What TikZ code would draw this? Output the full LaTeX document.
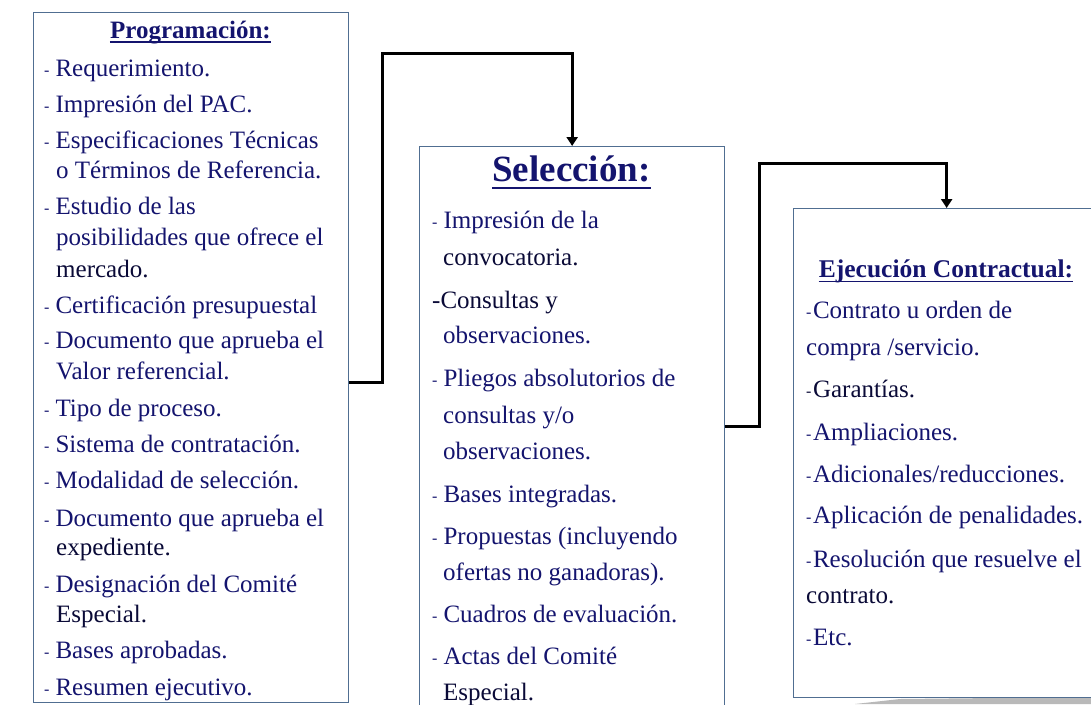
\documentclass[tikz,border=0pt]{standalone}
\usepackage{fontspec}
\setmainfont{Liberation Serif}
\usetikzlibrary{arrows.meta}
\definecolor{azul}{RGB}{20,20,110}
\definecolor{oscuro}{RGB}{10,10,55}
\definecolor{borde}{RGB}{80,110,145}
\newcommand{\guion}[1][6pt]{\raisebox{1pt}{\fontsize{16}{16}\selectfont -}\hspace{#1}}
\tikzset{
  caja/.style={draw=borde,line width=1.3pt,anchor=north west,inner sep=0pt},
  linea/.style={anchor=base west,inner sep=0pt,font=\fontsize{25}{30}\selectfont},
  titulo/.style={anchor=base,inner sep=0pt,text=azul,font=\bfseries\fontsize{#1}{#1}\selectfont},
  flecha/.style={line width=3pt,-{Triangle[length=9pt,width=11pt]}}
}
\begin{document}
\begin{tikzpicture}[x=1pt,y=1pt]
        \useasboundingbox (0,0) rectangle (1091,-704);
        \fill[gray!55] (855,-704) -- (900,-699) -- (1091,-697) -- (1091,-704) -- cycle;
        % cajas
        \node[caja,fill=white,minimum width=315pt,minimum height=690pt] (prog) at (33,-12) {};
        \node[caja,fill=white,minimum width=305pt,minimum height=580pt] (sel) at (419,-146) {};
        \node[caja,fill=white,minimum width=306pt,minimum height=489pt] (ejec) at (793,-208) {};
        % titulos
        \node[titulo=25] (tprog) at (190.5,-38) {Programación:};
        \node[titulo=37] (tsel) at (571.5,-181) {Selección:};
        \node[titulo=25.5] (tejec) at (946,-277) {Ejecución Contractual:};
        \draw[azul,line width=1.5pt]([yshift=-4pt]tprog.base west)--([yshift=-4pt]tprog.base east);
        \draw[azul,line width=2.5pt]([yshift=-7pt]tsel.base west)--([yshift=-7pt]tsel.base east);
        \draw[azul,line width=1.5pt]([yshift=-4.5pt]tejec.base west)--([yshift=-4.5pt]tejec.base east);
        % textos
        \foreach \x/\y/\col/\t in {
        44/76/azul/\guion Requerimiento.,
        44/112/azul/\guion Impresión del PAC.,
        44/148/azul/\guion Especificaciones Técnicas,
        56/178/azul/o Términos de Referencia.,
        44/214/azul/\guion Estudio de las,
        56/245/azul/posibilidades que ofrece el,
        56/277/oscuro/mercado.,
        44/313/azul/\guion Certificación presupuestal,
        44/348/azul/\guion Documento que aprueba el,
        56/379/azul/Valor referencial.,
        44/416/azul/\guion Tipo de proceso.,
        44/452/azul/\guion Sistema de contratación.,
        44/488/azul/\guion Modalidad de selección.,
        44/526/azul/\guion Documento que aprueba el,
        56/555/oscuro/expediente.,
        44/592/azul/\guion Designación del Comité,
        56/622/oscuro/Especial.,
        44/658/azul/\guion Bases aprobadas.,
        44/695/azul/\guion Resumen ejecutivo.}{
            \node[linea,text=\col] (p\y) at (\x,-\y) {\t};
        }
        \foreach \x/\y/\col/\t in {
        432/228/azul/\guion Impresión de la,
        443/265/oscuro/convocatoria.,
        432/308/oscuro/-Consultas y,
        443/343/azul/observaciones.,
        432/386/azul/\guion Pliegos absolutorios de,
        443/423/azul/{consultas y/o},
        443/459/azul/observaciones.,
        432/502/azul/\guion Bases integradas.,
        432/544/azul/\guion Propuestas (incluyendo,
        443/580/azul/ofertas no ganadoras).,
        432/622/azul/\guion Cuadros de evaluación.,
        432/664/azul/\guion Actas del Comité,
        443/700/oscuro/Especial.}{
            \node[linea,text=\col] (s\y) at (\x,-\y) {\t};
        }
        \foreach \x/\y/\col/\t in {
        806/318/azul/\guion[1.5pt]Contrato u orden de,
        806/355/azul/{compra /servicio.},
        806/397/oscuro/\guion[1.5pt]Garantías.,
        806/440/azul/\guion[1.5pt]Ampliaciones.,
        806/482/azul/{\guion[1.5pt]Adicionales/reducciones.},
        806/523/azul/\guion[1.5pt]Aplicación de penalidades.,
        806/567/azul/\guion[1.5pt]Resolución que resuelve el,
        806/603/oscuro/contrato.,
        806/645/azul/\guion[1.5pt]Etc.}{
            \node[linea,text=\col] (e\y) at (\x,-\y) {\t};
        }
        % conectores
        \coordinate (r1) at (382,-53);
        \coordinate (r2) at (759,-163);
        \draw[flecha]([yshift=-25pt]prog.east) -| (r1) -| (sel.north);
        \draw[flecha]([yshift=10pt]sel.east) -| (r2) -| (ejec.north);
    \end{tikzpicture}
\end{document}
